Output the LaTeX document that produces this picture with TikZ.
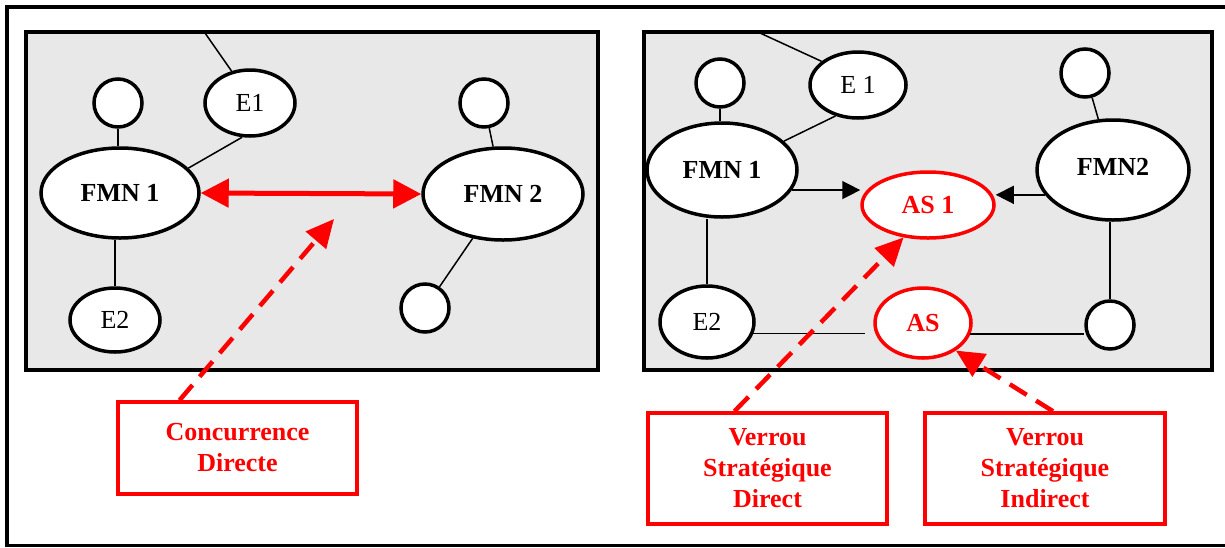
\documentclass[tikz,border=0pt]{standalone}
\usepackage{fontspec}
\setmainfont{Liberation Serif}
\usetikzlibrary{shapes.geometric,arrows.meta,calc}
\definecolor{panelgray}{RGB}{232,232,232}
\definecolor{myred}{RGB}{255,0,0}
\tikzset{
  txt/.style={font=\fontsize{26}{31}\selectfont},
  ell/.style={ellipse, draw=black, fill=white, line width=3.5pt, inner sep=0pt, txt},
  redell/.style={ell, draw=myred, text=myred, font=\fontsize{26}{31}\selectfont\bfseries},
  dot/.style={circle, draw=black, fill=white, line width=3.5pt, inner sep=0pt, minimum size=48pt},
  panel/.style={draw=black, fill=panelgray, line width=4.5pt},
  link/.style={draw=black, line width=1.5pt},
  blackarrow/.style={link, -{Triangle[length=18pt,width=18pt]}},
  redbox/.style={draw=myred, line width=3.5pt, text=myred, align=center, inner sep=0pt,
    font=\fontsize{26}{31}\selectfont\bfseries},
  reddash/.style={draw=myred, line width=4.5pt, dash pattern=on 20pt off 11pt,
    -{Triangle[length=28pt,width=26pt]}},
  reddouble/.style={draw=myred, line width=5pt,
    {Triangle[length=28pt,width=28pt]}-{Triangle[length=28pt,width=28pt]}},
}
\begin{document}
\begin{tikzpicture}[x=1pt,y=-1pt]
\useasboundingbox (0,0) rectangle (1225,547);
% outer frame (right side cut off)
\draw[line width=3.5pt] (1226,7) -- (7,7) -- (7,545.5) -- (1226,545.5);
% panels
\draw[panel] (26,32) rectangle (598,370);
\draw[panel] (644,32) rectangle (1212,370);

% ---------- left panel ----------
\node[ell, minimum width=158pt, minimum height=90pt, font=\fontsize{26}{31}\selectfont\bfseries] (fmnA) at (120,193) {FMN 1};
\node[ell, minimum width=160pt, minimum height=92pt, font=\fontsize{26}{31}\selectfont\bfseries] (fmnB) at (503,194) {FMN 2};
\node[dot] (cA1) at (118,103) {};
\node[ell, minimum width=90pt, minimum height=66pt] (eA1) at (250,103) {E1};
\node[ell, minimum width=90pt, minimum height=64pt] (eA2) at (115,320) {E2};
\node[dot] (cB1) at (484,103) {};
\node[dot] (cB2) at (425,308) {};
\coordinate (topA) at (205,33);

\draw[link] (eA1.120) -- (topA);
\draw[link] (eA1.257) -- (fmnA.20);
\draw[link] (cA1) -- (cA1 |- fmnA.north);
\draw[link] (eA2.north) -- (eA2.north |- fmnA.south);
\draw[link] (cB1) -- (fmnB);
\draw[link] (cB2) -- (fmnB);
\draw[reddouble] (fmnA.east) -- (fmnB.west);

% Concurrence directe
\node[redbox, minimum width=239pt, minimum height=92pt] (cd) at (237.5,448) {Concurrence\\Directe};
\coordinate (cdtip) at (334,219);
\draw[reddash] ($(cd.north)+(-58,0)$) -- (cdtip);

% ---------- right panel ----------
\node[ell, minimum width=150pt, minimum height=94pt, font=\fontsize{26}{31}\selectfont\bfseries] (fmnC) at (722,170) {FMN 1};
\node[ell, minimum width=152pt, minimum height=100pt, font=\fontsize{26}{31}\selectfont\bfseries] (fmnD) at (1113,170) {\raisebox{7pt}{FMN2}};
\node[dot] (cC1) at (720,83) {};
\node[ell, minimum width=96pt, minimum height=66pt] (eC1) at (858,85) {E 1};
\node[ell, minimum width=94pt, minimum height=72pt] (eC2) at (707,322) {E2};
\node[dot] (cD1) at (1085,73) {};
\node[dot] (cD2) at (1110,325) {};
\node[redell, minimum width=132pt, minimum height=66pt] (as1) at (928,205) {AS 1};
\node[redell, minimum width=96pt, minimum height=70pt] (as) at (923,323) {AS};
\coordinate (topC) at (760,33);

\draw[link] (eC1.147) -- (topC);
\draw[link] (eC1.234) -- (fmnC.25);
\draw[link] (cC1) -- (cC1 |- fmnC.north);
\draw[link] (eC2.north) -- (eC2.north |- fmnC.south);
\draw[link] (cD1) -- (fmnD);
\draw[link] (cD2.north) -- (cD2.north |- fmnD.south);
\draw[blackarrow] (fmnC.-16) -- (fmnC.-16 -| as1.west);
\draw[blackarrow] (fmnD.200) -- (fmnD.200 -| as1.east);
\draw[link] (eC2.-14) -- ($(eC2.-14 -| as.west)+(-8,0)$);
\draw[link] (as.-13) -- (as.-13 -| cD2.west);

% Verrou boxes
\node[redbox, minimum width=239pt, minimum height=111pt] (vd) at (767.5,468.5) {Verrou\\Stratégique\\Direct};
\node[redbox, minimum width=240pt, minimum height=111pt] (vi) at (1045,468.5) {Verrou\\Stratégique\\Indirect};
\draw[reddash] ($(vd.north)+(-33,0)$) -- (as1.233);
\draw[reddash] ($(vi.north)+(8,0)$) -- (as.-40);
\end{tikzpicture}
\end{document}
